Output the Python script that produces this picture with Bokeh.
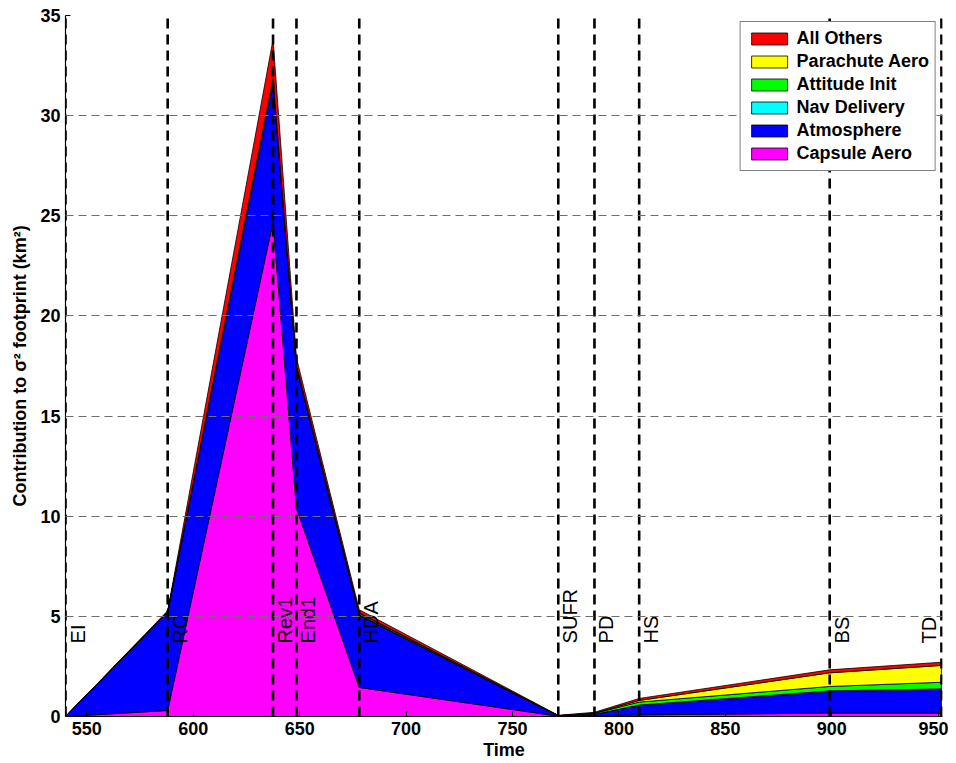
import math
import numpy as np
from bokeh.plotting import figure
from bokeh.models import ColumnDataSource, Legend, LegendItem, FixedTicker, Range1d
from bokeh.core.properties import value
from bokeh.embed import file_html
from bokeh.resources import INLINE

# ---- data ----
times = [540, 588, 637.5, 648.5, 678, 771.5, 788.5, 809.5, 899, 951.5]
event_names = ["EI", "RC", "Rev1", "End1", "HDA", "SUFR", "PD", "HS", "BS", "TD"]

capsule_aero = [0, 0.30, 24.7, 10.4, 1.45, 0.02, 0.03, 0.08, 0.17, 0.17]
atmosphere = [0, 4.90, 6.90, 7.00, 3.60, 0.01, 0.07, 0.47, 1.08, 1.18]
nav_delivery = [0, 0.01, 0.10, 0.05, 0.03, 0.00, 0.01, 0.02, 0.03, 0.03]
attitude_init = [0, 0.02, 0.15, 0.10, 0.07, 0.01, 0.05, 0.15, 0.22, 0.33]
parachute_aero = [0, 0.00, 0.00, 0.00, 0.03, 0.00, 0.01, 0.08, 0.68, 0.84]
all_others = [0, 0.05, 1.95, 0.35, 0.15, 0.02, 0.04, 0.10, 0.15, 0.16]

series_names = ["Capsule Aero", "Atmosphere", "Nav Delivery", "Attitude Init",
                "Parachute Aero", "All Others"]
series_values = [capsule_aero, atmosphere, nav_delivery, attitude_init,
                 parachute_aero, all_others]
series_colors = ["#FF00FF", "#0000FF", "#00FFFF", "#00FF00", "#FFFF00", "#FF0000"]

x_ticks = [550, 600, 650, 700, 750, 800, 850, 900, 950]
y_ticks = [0, 5, 10, 15, 20, 25, 30, 35]

FONT = "Liberation Sans"

p = figure(frame_width=877, frame_height=701,
           x_range=Range1d(540, 952), y_range=Range1d(0, 35),
           output_backend="svg", toolbar_location=None,
           min_border_left=65, min_border_top=15, min_border_right=6,
           min_border_bottom=40)
p.outline_line_color = None
p.background_fill_color = "white"

# stacked areas as patches
t = np.array(times, dtype=float)
base = np.zeros_like(t)
renderers = []
for name, vals, col in zip(series_names, series_values, series_colors):
    top = base + np.array(vals, dtype=float)
    xs = np.concatenate([t, t[::-1]])
    ys = np.concatenate([top, base[::-1]])
    r = p.patch(x=xs, y=ys, fill_color=col, line_color="black", line_width=0.8)
    renderers.append((name, r))
    base = top

# grid
p.xgrid.grid_line_color = None
p.ygrid.ticker = FixedTicker(ticks=y_ticks)
p.ygrid.grid_line_color = "#6e6e6e"
p.ygrid.grid_line_dash = "8 5"
p.ygrid.grid_line_width = 1
p.ygrid.level = "overlay"

# event lines and labels (last label sits left of its line, at the plot edge)
n = len(times)
ev_src = ColumnDataSource(dict(
    x=times, y0=[0] * n, y1=[35] * n, name=event_names, ty=[3.65] * n,
    base=["top"] * (n - 1) + ["bottom"],
    xo=[1] * (n - 1) + [-1],
))
p.segment(x0="x", y0="y0", x1="x", y1="y1", source=ev_src, line_color="black",
          line_width=2.6, line_dash="10 6")
p.text(x="x", y="ty", text="name", source=ev_src, angle=math.pi / 2,
       text_align="left", text_baseline="base", x_offset="xo",
       text_font=value(FONT), text_font_size="20px", text_color="black")

# axes
for ax in (p.xaxis, p.yaxis):
    ax.major_label_text_font = FONT
    ax.major_label_text_font_style = "bold"
    ax.major_label_text_font_size = "18px"
    ax.major_label_text_color = "black"
    ax.axis_label_text_font = FONT
    ax.axis_label_text_font_style = "bold"
    ax.axis_label_text_font_size = "18px"
    ax.axis_label_text_color = "black"
    ax.axis_line_color = "black"
    ax.axis_line_width = 1.2
    ax.major_tick_in = 5
    ax.major_tick_out = 0
    ax.minor_tick_in = 0
    ax.minor_tick_out = 0
    ax.major_tick_line_color = "black"

p.xaxis.ticker = FixedTicker(ticks=x_ticks)
p.yaxis.ticker = FixedTicker(ticks=y_ticks)
p.xaxis.axis_label = "Time"
p.yaxis.axis_label = "Contribution to σ² footprint (km²)"
p.xaxis.major_label_standoff = 5
p.xaxis.axis_label_standoff = 2
p.yaxis.major_label_standoff = 5
p.yaxis.axis_label_standoff = 7

# legend (top entry = top of stack)
items = [LegendItem(label=name, renderers=[r]) for name, r in reversed(renderers)]
legend = Legend(items=items, location="top_right")
legend.label_text_font = FONT
legend.label_text_font_style = "bold"
legend.label_text_font_size = "18px"
legend.label_text_color = "black"
legend.label_height = 20
legend.label_standoff = 5
legend.glyph_width = 45
legend.glyph_height = 15
legend.spacing = 2
legend.padding = 6
legend.margin = 6
legend.border_line_color = "black"
legend.border_line_width = 1.5
legend.background_fill_color = "white"
legend.background_fill_alpha = 1.0
p.add_layout(legend)

open("out.html", "w").write(file_html(p, INLINE))
